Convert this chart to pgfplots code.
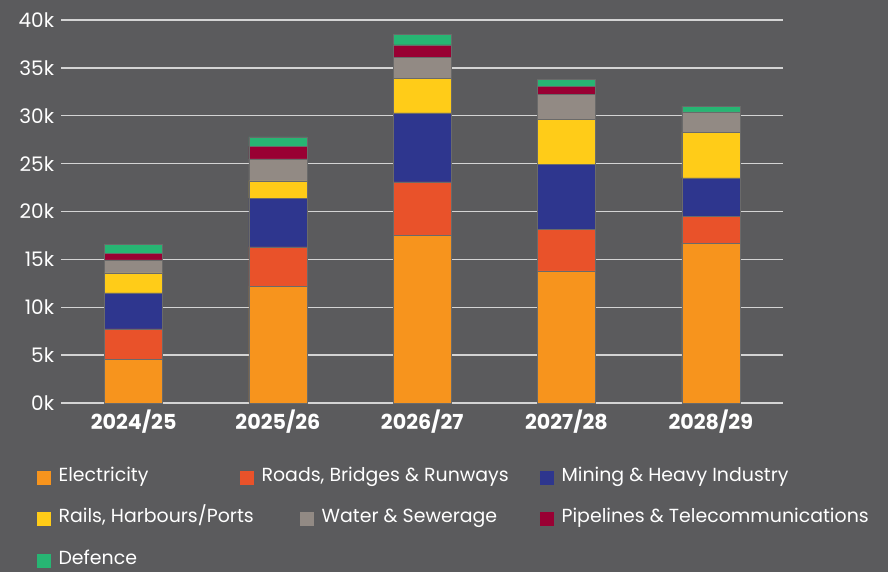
\documentclass[border=0pt]{standalone}
\usepackage{pgfplots}
\pgfplotsset{compat=1.18}
\usepackage{pgfplotstable}
\usepackage{fontspec}
\setmainfont{Poppins}
\definecolor{bgc}{HTML}{5B5B5D}
\definecolor{gridc}{HTML}{D4D4D4}
\definecolor{celec}{HTML}{F7941D}
\definecolor{croad}{HTML}{E9522A}
\definecolor{cmine}{HTML}{2E368E}
\definecolor{crail}{HTML}{FFCC18}
\definecolor{cwater}{HTML}{928A84}
\definecolor{cpipe}{HTML}{990033}
\definecolor{cdef}{HTML}{27B573}
\definecolor{edgec}{HTML}{6A6A6A}

% values in thousands
\pgfplotstableread{
x  elec  road  mine  rail  water pipe  def
0  4.55  3.20  3.75  2.10  1.35  0.65  1.00
1  12.2  4.10  5.10  1.80  2.30  1.30  1.00
2  17.5  5.60  7.20  3.60  2.20  1.30  1.10
3  13.8  4.30  6.80  4.70  2.60  0.90  0.70
4  16.7  2.80  4.00  4.80  2.10  0.00  0.60
}\datatab

\newcommand\legitem[4]{%
\begin{axis}[hide axis, scale only axis, width=1pt, height=1pt,
  xmin=0, xmax=1, ymin=0, ymax=1,
  at={(#1,#2)}, anchor=south west,
  legend style={at={(0,0)}, anchor=west, draw=none, fill=none,
    inner sep=0pt, text=white, font=\fontsize{14.2}{17}\selectfont,
    nodes={text height=0.72em, text depth=0.22em, inner xsep=5.5pt},
    /tikz/every even column/.append style={column sep=0pt}},
  legend image code/.code={\fill[##1, draw=none] (0pt,-5.25pt) rectangle (10.5pt,5.25pt);},
  legend cell align=left]
\addlegendimage{fill=#3}
\addlegendentry{#4}
\end{axis}}

\begin{document}
\begin{tikzpicture}
\fill[bgc] (0,0) rectangle (666pt,429pt);
\begin{axis}[
  at={(46.1pt,126.75pt)}, anchor=south west,
  scale only axis, width=541.1pt, height=287.25pt,
  ybar stacked, bar width=43.5pt,
  xmin=-0.5, xmax=4.5, ymin=0, ymax=40,
  xtick={0,1,2,3,4},
  xticklabels={2024/25,2025/26,2026/27,2027/28,2028/29},
  ytick={0,5,...,40},
  yticklabels={0k,5k,10k,15k,20k,25k,30k,35k,40k},
  ymajorgrids, grid style={gridc, line width=1.1pt},
  axis line style={draw=none}, major tick length=0pt,
  tick label style={text=white, font=\fontsize{15}{18}\selectfont},
  xticklabel style={font=\fontsize{15.5}{18}\selectfont\bfseries, yshift=-1.5pt},
  yticklabel style={xshift=-2pt},
  every axis plot/.append style={draw=edgec, line width=0.4pt},
]
\addplot[fill=celec] table[x=x, y=elec] {\datatab};
\addplot[fill=croad] table[x=x, y=road] {\datatab};
\addplot[fill=cmine] table[x=x, y=mine] {\datatab};
\addplot[fill=crail] table[x=x, y=rail] {\datatab};
\addplot[fill=cwater] table[x=x, y=water] {\datatab};
\addplot[fill=cpipe] table[x=x, y=pipe] {\datatab};
\addplot[fill=cdef] table[x=x, y=def] {\datatab};
\end{axis}
\legitem{27.75pt}{70.5pt}{celec}{Electricity}
\legitem{180pt}{70.5pt}{croad}{Roads, Bridges \& Runways}
\legitem{405pt}{70.5pt}{cmine}{Mining \& Heavy Industry}
\legitem{27.75pt}{39.75pt}{crail}{Rails, Harbours/Ports}
\legitem{225pt}{39.75pt}{cwater}{Water \& Sewerage}
\legitem{405pt}{39.75pt}{cpipe}{Pipelines \& Telecommunications}
\legitem{27.75pt}{8.25pt}{cdef}{Defence}
\end{tikzpicture}
\end{document}
